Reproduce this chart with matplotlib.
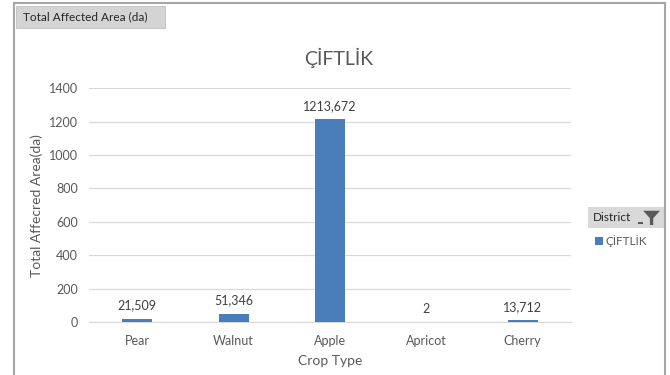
import matplotlib.pyplot as plt
from matplotlib.patches import Rectangle, Polygon

plt.rcParams["font.family"] = ["Lato", "DejaVu Sans"]

# ---- data ----
crops = ["Pear", "Walnut", "Apple", "Apricot", "Cherry"]
affected_area = [21.509, 51.346, 1213.672, 2, 13.712]
value_labels = ["21,509", "51,346", "1213,672", "2", "13,712"]
district = "ÇİFTLİK"

BAR = "#4a7ebb"
TXT = "#595959"
GRID = "#d9d9d9"

fig = plt.figure(figsize=(6.7, 3.75), dpi=100)
ax = fig.add_axes([0.133, 0.141, 0.719, 0.624])

x = range(len(crops))
bars = ax.bar(x, affected_area, width=0.31, color=BAR, zorder=3)

for b, lab in zip(bars, value_labels):
    ax.annotate(lab, (b.get_x() + b.get_width() / 2, b.get_height()),
                xytext=(0, 5), textcoords="offset points",
                ha="center", va="bottom", fontsize=9, color="#404040")

ax.set_xlim(-0.5, len(crops) - 0.5)
ax.set_ylim(0, 1400)
ax.set_yticks(range(0, 1401, 200))
ax.set_xticks(list(x))
ax.set_xticklabels(crops)
ax.tick_params(axis="both", length=0, labelsize=9, colors=TXT)
ax.tick_params(axis="x", pad=9)
ax.tick_params(axis="y", pad=8)
ax.grid(axis="y", color=GRID, linewidth=0.9, zorder=0)
for side in ["top", "right", "left"]:
    ax.spines[side].set_visible(False)
ax.spines["bottom"].set_color(GRID)

ax.set_xlabel("Crop Type", fontsize=10, color=TXT, labelpad=6)
ax.set_ylabel("Total Affecred Area(da)", fontsize=10, color=TXT, labelpad=4)
fig.text(0.505, 0.845, district, fontsize=14, color=TXT, ha="center", va="center")

# outer frame lines (left, top, right)
frame_kw = dict(color="#a6a6a6", linewidth=1.5, transform=fig.transFigure)
fig.add_artist(plt.Line2D([0.021, 0.021], [0, 0.992], **frame_kw))
fig.add_artist(plt.Line2D([0.021, 0.993], [0.992, 0.992], **frame_kw))
fig.add_artist(plt.Line2D([0.993, 0.993], [0, 0.992], **frame_kw))

# field button top-left
fig.add_artist(Rectangle((0.024, 0.925), 0.222, 0.058, transform=fig.transFigure,
                         facecolor="#d4d4d4", edgecolor="#c0c0c0", linewidth=0.6))
fig.text(0.035, 0.954, "Total Affected Area (da)", fontsize=8.5, color="#262626",
         va="center", ha="left")

# legend header with filter button
fig.add_artist(Rectangle((0.877, 0.392), 0.114, 0.056, transform=fig.transFigure,
                         facecolor="#d9d9d9", edgecolor="none"))
fig.text(0.885, 0.420, "District", fontsize=8.5, color="#262626", va="center")
fig.add_artist(Polygon([(0.960, 0.438), (0.985, 0.438), (0.975, 0.418),
                        (0.975, 0.400), (0.970, 0.400), (0.970, 0.418)],
                       closed=True, transform=fig.transFigure,
                       facecolor="#595959", edgecolor="none"))
fig.add_artist(Rectangle((0.952, 0.402), 0.008, 0.005, transform=fig.transFigure,
                         facecolor="#595959", edgecolor="none"))
fig.add_artist(Rectangle((0.888, 0.347), 0.012, 0.022, transform=fig.transFigure,
                         facecolor=BAR, edgecolor="none"))
fig.text(0.904, 0.357, district, fontsize=8.5, color=TXT, va="center")

fig.savefig("out.png", dpi=100, facecolor="white")
